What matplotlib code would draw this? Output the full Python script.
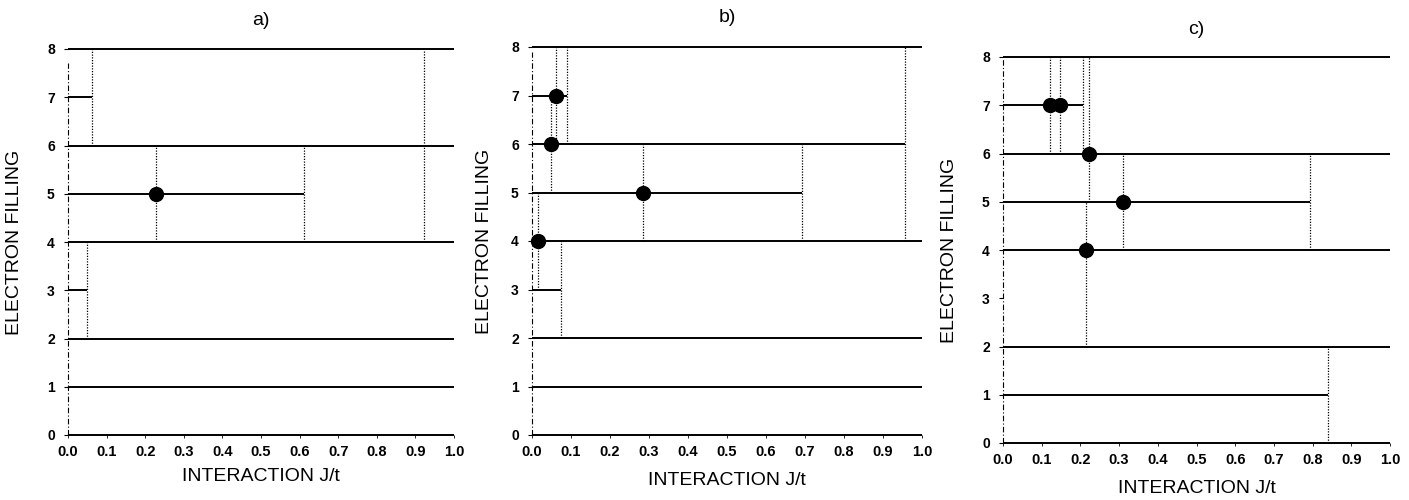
import matplotlib
matplotlib.use("Agg")
import matplotlib.pyplot as plt
import numpy as np

plt.rcParams['font.family'] = ['Liberation Sans', 'DejaVu Sans']

# ---------------- data ----------------
panel_titles = ["a)", "b)", "c)"]
x_label = "INTERACTION J/t"
y_label = "ELECTRON FILLING"
x_ticks = [0.0, 0.1, 0.2, 0.3, 0.4, 0.5, 0.6, 0.7, 0.8, 0.9, 1.0]
y_ticks = [0, 1, 2, 3, 4, 5, 6, 7, 8]

# horizontal solid segments: filling level, J start, J end
a_seg_y = [8, 6, 4, 2, 1, 0, 7, 5, 3]
a_seg_x0 = [0, 0, 0, 0, 0, 0, 0, 0, 0]
a_seg_x1 = [1.0, 1.0, 1.0, 1.0, 1.0, 1.0, 0.062, 0.611, 0.05]
# dotted vertical boundaries: J, filling from, filling to
a_vert_x = [0.062, 0.228, 0.611, 0.05, 0.922]
a_vert_y0 = [6, 4, 4, 2, 4]
a_vert_y1 = [8, 6, 6, 4, 8]
# filled circles
a_dot_x = [0.228]
a_dot_y = [5]
# dashed left boundary (J=0) extent
a_left = [0, 7.7]

b_seg_y = [8, 6, 4, 2, 1, 0, 7, 5, 3]
b_seg_x0 = [0, 0, 0, 0, 0, 0, 0, 0, 0]
b_seg_x1 = [1.0, 0.956, 1.0, 1.0, 1.0, 1.0, 0.09, 0.692, 0.075]
b_vert_x = [0.062, 0.09, 0.048, 0.285, 0.692, 0.016, 0.075, 0.956]
b_vert_y0 = [6, 6, 5, 4, 4, 3, 2, 4]
b_vert_y1 = [8, 8, 7, 6, 6, 5, 4, 8]
b_dot_x = [0.062, 0.048, 0.285, 0.016]
b_dot_y = [7, 6, 5, 4]
b_left = [0, 7.9]

c_seg_y = [8, 6, 4, 2, 0, 1, 7, 5]
c_seg_x0 = [0, 0, 0, 0, 0, 0, 0, 0]
c_seg_x1 = [1.0, 1.0, 1.0, 1.0, 1.0, 0.84, 0.207, 0.793]
c_vert_x = [0.84, 0.121, 0.147, 0.207, 0.222, 0.31, 0.793, 0.214]
c_vert_y0 = [0, 6, 6, 6, 5, 4, 4, 2]
c_vert_y1 = [2, 8, 8, 8, 8, 6, 6, 5]
c_dot_x = [0.121, 0.147, 0.222, 0.31, 0.214]
c_dot_y = [7, 7, 6, 5, 4]
c_left = [0, 8]

panels = [
    (a_seg_y, a_seg_x0, a_seg_x1, a_vert_x, a_vert_y0, a_vert_y1, a_dot_x, a_dot_y, a_left),
    (b_seg_y, b_seg_x0, b_seg_x1, b_vert_x, b_vert_y0, b_vert_y1, b_dot_x, b_dot_y, b_left),
    (c_seg_y, c_seg_x0, c_seg_x1, c_vert_x, c_vert_y0, c_vert_y1, c_dot_x, c_dot_y, c_left),
]

# ---------------- layout ----------------
W, H = 1409, 500
fig = plt.figure(figsize=(W / 100, H / 100), dpi=100)

# pixel boxes: (x of J=0, x of J=1, y of N=8, y of N=0)
boxes = [(68, 454, 49, 435), (532, 922, 47, 435), (1003, 1390, 57, 443)]
ylabel_x = [-0.117, -0.10, -0.116]
xlabel_y = [-0.085, -0.095, -0.095]
title_y = [1.075, 1.075, 1.07]

for i, (box, data) in enumerate(zip(boxes, panels)):
    x0p, x1p, ytop, ybot = box
    ax = fig.add_axes([x0p / W, 1 - ybot / H, (x1p - x0p) / W, (ybot - ytop) / H])
    ax.set_xlim(0, 1)
    ax.set_ylim(0, 8)
    for s in ax.spines.values():
        s.set_visible(False)

    seg_y, seg_x0, seg_x1, vx, vy0, vy1, dx, dy, left = data

    # left dashed boundary
    ax.plot([0, 0], left, color='black', lw=0.8,
            linestyle=(0, (5, 2, 1, 2)), clip_on=False, zorder=1)
    # horizontal lines
    for y, xa, xb in zip(seg_y, seg_x0, seg_x1):
        ax.plot([xa, xb], [y, y], color='black', lw=1.4, solid_capstyle='butt',
                clip_on=False, zorder=2)
    # dotted verticals
    for x, ya, yb in zip(vx, vy0, vy1):
        ax.plot([x, x], [ya, yb], color='black', lw=0.9, linestyle=(0, (1, 1.2)),
                clip_on=False, zorder=1)
    # dots
    ax.plot(dx, dy, 'o', color='black', markersize=10, clip_on=False, zorder=3)

    ax.set_xticks(x_ticks)
    ax.set_xticklabels([f"{t:.1f}" for t in x_ticks])
    ax.set_yticks(y_ticks)
    ax.set_yticklabels([str(t) for t in y_ticks])
    ax.tick_params(axis='x', length=2, width=0.6, pad=5.5, labelsize=10.5)
    ax.tick_params(axis='y', length=3, width=0.8, pad=6.5, labelsize=10)
    for lab in ax.get_xticklabels() + ax.get_yticklabels():
        lab.set_fontweight('bold')

    ax.set_ylabel(y_label, fontsize=14)
    ax.yaxis.set_label_coords(ylabel_x[i], 0.5)
    ax.set_xlabel(x_label, fontsize=14, va='top')
    ax.xaxis.set_label_coords(0.5, xlabel_y[i])
    ax.text(0.5, title_y[i], panel_titles[i], transform=ax.transAxes,
            ha='center', va='center', fontsize=14)

fig.savefig("out.png", dpi=100)
